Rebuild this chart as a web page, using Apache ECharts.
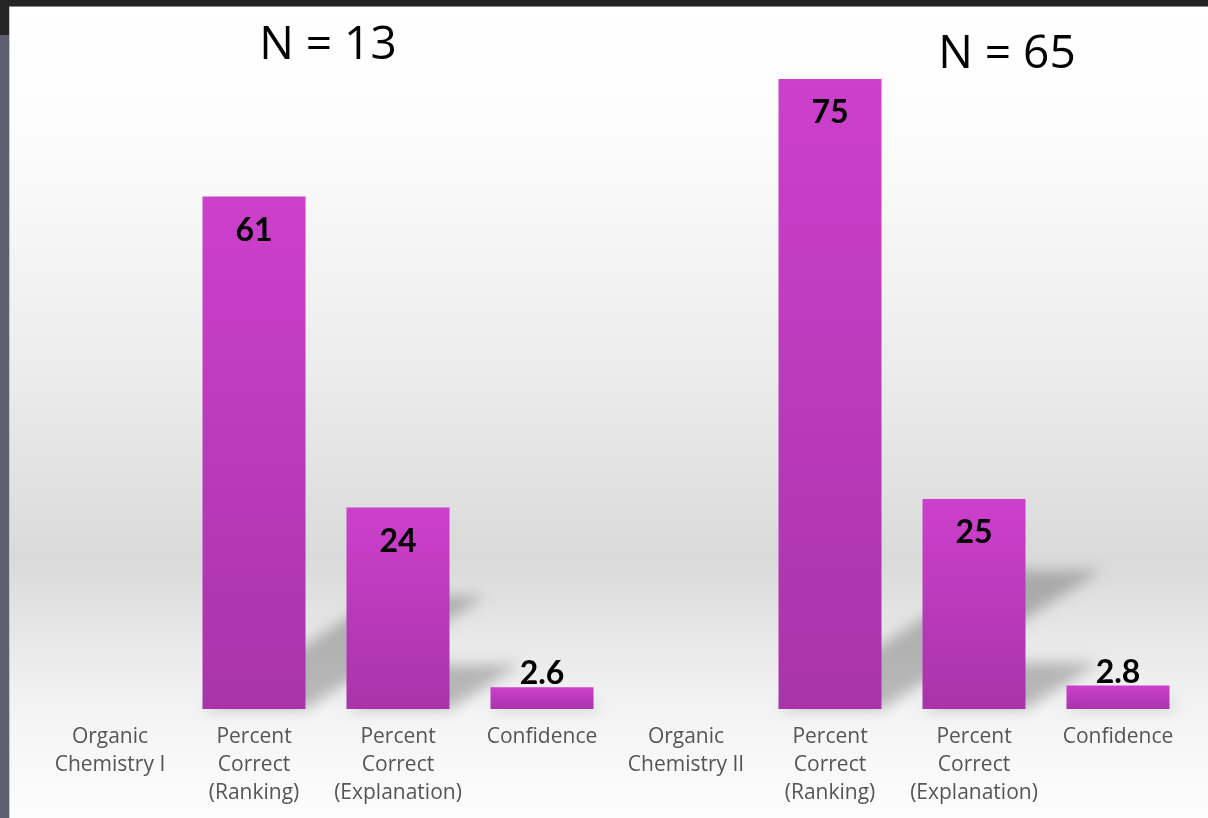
<!DOCTYPE html>
<html>
<head>
<meta charset="utf-8">
<script src="https://cdn.jsdelivr.net/npm/echarts@6/dist/echarts.min.js"></script>
<style>
  html, body { margin: 0; padding: 0; background: #ffffff; }
  #chart { width: 1208px; height: 818px; }
</style>
</head>
<body>
<div id="chart"></div>
<script>
// Category labels along the bottom (two course groups of three measures)
const categories = [
  'Organic\nChemistry I',
  'Percent\nCorrect\n(Ranking)',
  'Percent\nCorrect\n(Explanation)',
  'Confidence',
  'Organic\nChemistry II',
  'Percent\nCorrect\n(Ranking)',
  'Percent\nCorrect\n(Explanation)',
  'Confidence'
];
// Measured values per category; group header columns carry no bar
const values = [null, 61, 24, 2.6, null, 75, 25, 2.8];
// Sample size headings above each group
const groupTitles = ['N = 13', 'N = 65'];

const chart = echarts.init(document.getElementById('chart'));

const barData = values.map(function (v) {
  if (v === null) return null;
  const small = v < 10;
  return {
    value: v,
    label: small
      ? { position: 'top', distance: -3 }
      : { position: 'insideTop', distance: 18 }
  };
});

const shadowData = [];
values.forEach(function (v, i) {
  if (v !== null) shadowData.push([i, v]);
});

const BAR_W = 103;
const FAR = 3000;

chart.setOption({
  animation: false,
  grid: { left: 38, right: 18, top: 37, bottom: 109 },
  graphic: [
    {
      type: 'rect', z: -10, silent: true,
      shape: { x: 10, y: 7, width: 1198, height: 811 },
      style: {
        fill: new echarts.graphic.LinearGradient(0, 0, 0, 1, [
          { offset: 0, color: '#ffffff' },
          { offset: 0.14, color: '#fdfdfd' },
          { offset: 0.45, color: '#ececec' },
          { offset: 0.68, color: '#dadada' },
          { offset: 0.86, color: '#f3f3f3' },
          { offset: 1, color: '#fdfdfd' }
        ])
      }
    },
    { type: 'rect', z: 10, silent: true, shape: { x: 0, y: 0, width: 1208, height: 6 }, style: { fill: '#232323' } },
    { type: 'rect', z: 10, silent: true, shape: { x: 0, y: 6, width: 1208, height: 1 }, style: { fill: '#8a8a8a' } },
    { type: 'rect', z: 10, silent: true, shape: { x: 0, y: 0, width: 9, height: 35 }, style: { fill: '#262626' } },
    { type: 'rect', z: 10, silent: true, shape: { x: 0, y: 35, width: 9, height: 783 }, style: { fill: '#5d5f6d' } },
    { type: 'rect', z: 10, silent: true, shape: { x: 9, y: 7, width: 1, height: 811 }, style: { fill: '#c8c8c8' } },
    {
      type: 'text', z: 10, silent: true, x: 328, y: 46,
      style: {
        text: groupTitles[0], fill: '#000000',
        font: '46px "Open Sans", sans-serif',
        textAlign: 'center', textVerticalAlign: 'middle'
      }
    },
    {
      type: 'text', z: 10, silent: true, x: 1007, y: 55,
      style: {
        text: groupTitles[1], fill: '#000000',
        font: '46px "Open Sans", sans-serif',
        textAlign: 'center', textVerticalAlign: 'middle'
      }
    }
  ],
  xAxis: {
    type: 'category',
    data: categories,
    axisLine: { show: false },
    axisTick: { show: false },
    axisLabel: {
      interval: 0,
      margin: 14,
      color: '#555555',
      fontFamily: 'Open Sans',
      fontSize: 21,
      lineHeight: 28
    }
  },
  yAxis: {
    type: 'value',
    min: 0,
    max: 80,
    show: false,
    splitLine: { show: false }
  },
  series: [
    {
      // soft cast shadows falling behind each bar
      type: 'custom',
      z: 1,
      silent: true,
      data: shadowData,
      renderItem: function (params, api) {
        const i = api.value(0);
        const base = api.coord([i, 0]);
        const top = api.coord([i, api.value(1)]);
        const h = base[1] - top[1];
        const xl = base[0] - BAR_W / 2;
        const xr = base[0] + BAR_W / 2;
        const y0 = base[1];
        const dx = 0.35 * h;
        const dy = 0.22 * h;
        return {
          type: 'polygon',
          shape: {
            points: [
              [xl - FAR, y0],
              [xr - FAR, y0],
              [xr + dx - FAR, y0 - dy],
              [xl + dx - FAR, y0 - dy]
            ]
          },
          style: {
            fill: '#000000',
            shadowColor: 'rgba(0,0,0,0.24)',
            shadowBlur: 14,
            shadowOffsetX: FAR,
            shadowOffsetY: 0
          }
        };
      }
    },
    {
      type: 'bar',
      z: 2,
      barWidth: BAR_W,
      data: barData,
      itemStyle: {
        color: new echarts.graphic.LinearGradient(0, 0, 0, 1, [
          { offset: 0, color: '#cc40cc' },
          { offset: 1, color: '#a934a9' }
        ])
      },
      label: {
        show: true,
        color: '#000000',
        fontFamily: 'Lato',
        fontWeight: 'bold',
        fontSize: 32
      }
    }
  ]
});
</script>
</body>
</html>
